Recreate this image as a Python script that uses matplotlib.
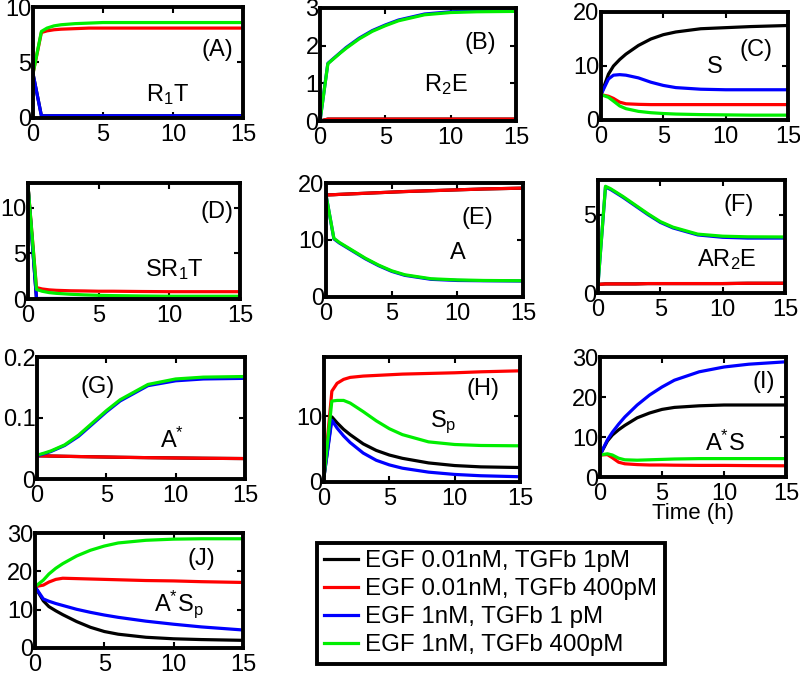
import matplotlib
matplotlib.use("Agg")
import matplotlib.pyplot as plt
from matplotlib.lines import Line2D

plt.rcParams['font.family'] = ['Liberation Sans', 'DejaVu Sans']
plt.rcParams['mathtext.fontset'] = 'custom'
plt.rcParams['mathtext.rm'] = 'Liberation Sans'
plt.rcParams['mathtext.it'] = 'Liberation Sans'

# time points (h)
t = [0, 0.6, 1, 1.5, 2, 3, 4, 5, 6, 8, 10, 12, 15]

series_labels = ["EGF 0.01nM, TGFb 1pM", "EGF 0.01nM, TGFb 400pM",
                 "EGF 1nM, TGFb 1 pM", "EGF 1nM, TGFb 400pM"]
colors = ['#000000', '#ff0000', '#0000ff', '#00ee00']

# (A) R1T
A_black = [4, 0.2, 0.2, 0.2, 0.2, 0.2, 0.2, 0.2, 0.2, 0.2, 0.2, 0.2, 0.2]
A_red   = [4, 7.7, 7.85, 7.95, 8.0, 8.05, 8.1, 8.1, 8.1, 8.1, 8.1, 8.1, 8.1]
A_blue  = [4, 0.2, 0.2, 0.2, 0.2, 0.2, 0.2, 0.2, 0.2, 0.2, 0.2, 0.2, 0.2]
A_green = [4, 7.8, 8.1, 8.3, 8.4, 8.5, 8.55, 8.6, 8.6, 8.6, 8.6, 8.6, 8.6]

# (B) R2E
B_black = [0, 0.05, 0.05, 0.05, 0.05, 0.05, 0.05, 0.05, 0.05, 0.05, 0.05, 0.05, 0.05]
B_red   = [0, 0.05, 0.05, 0.05, 0.05, 0.05, 0.05, 0.05, 0.05, 0.05, 0.05, 0.05, 0.05]
B_blue  = [0, 1.53, 1.65, 1.8, 1.95, 2.2, 2.4, 2.55, 2.68, 2.84, 2.9, 2.92, 2.93]
B_green = [0, 1.52, 1.64, 1.79, 1.93, 2.18, 2.38, 2.53, 2.66, 2.82, 2.88, 2.9, 2.91]

# (C) S
C_black = [4.7, 8.5, 10.0, 11.2, 12.2, 13.8, 15.0, 15.8, 16.3, 16.9, 17.1, 17.3, 17.5]
C_red   = [4.7, 4.4, 4.0, 3.3, 3.0, 2.9, 2.85, 2.85, 2.85, 2.85, 2.85, 2.85, 2.85]
C_blue  = [4.7, 7.6, 8.3, 8.4, 8.3, 7.8, 7.0, 6.4, 6.0, 5.7, 5.6, 5.6, 5.6]
C_green = [4.7, 4.2, 3.5, 2.6, 2.1, 1.6, 1.35, 1.2, 1.1, 1.0, 0.95, 0.9, 0.9]

# (D) SR1T
D_black = [12.4, 0.05, 0.05, 0.05, 0.05, 0.05, 0.05, 0.05, 0.05, 0.05, 0.05, 0.05, 0.05]
D_red   = [12.4, 1.25, 1.1, 1.0, 0.95, 0.9, 0.88, 0.85, 0.85, 0.82, 0.8, 0.8, 0.8]
D_blue  = [12.4, 0.05, 0.05, 0.05, 0.05, 0.05, 0.05, 0.05, 0.05, 0.05, 0.05, 0.05, 0.05]
D_green = [12.4, 1.05, 0.85, 0.7, 0.62, 0.52, 0.45, 0.4, 0.37, 0.33, 0.3, 0.3, 0.3]

# (E) A
E_black = [17.9, 17.95, 18.0, 18.05, 18.1, 18.2, 18.3, 18.4, 18.5, 18.65, 18.8, 18.95, 19.1]
E_red   = [17.9, 17.95, 18.0, 18.05, 18.1, 18.2, 18.3, 18.4, 18.5, 18.65, 18.8, 18.95, 19.1]
E_blue  = [17.9, 10.2, 9.5, 8.8, 8.1, 6.7, 5.5, 4.5, 3.8, 3.1, 2.9, 2.85, 2.8]
E_green = [17.9, 10.3, 9.6, 8.9, 8.2, 6.8, 5.6, 4.6, 3.9, 3.2, 3.0, 2.9, 2.85]

# (F) AR2E
F_black = [0.55, 0.58, 0.58, 0.58, 0.58, 0.58, 0.6, 0.6, 0.6, 0.6, 0.6, 0.62, 0.62]
F_red   = [0.55, 0.58, 0.58, 0.58, 0.58, 0.58, 0.6, 0.6, 0.6, 0.6, 0.6, 0.62, 0.62]
F_blue  = [0.55, 6.75, 6.6, 6.35, 6.1, 5.55, 5.0, 4.5, 4.15, 3.7, 3.55, 3.5, 3.5]
F_green = [0.55, 6.8, 6.65, 6.4, 6.15, 5.6, 5.05, 4.55, 4.2, 3.75, 3.62, 3.58, 3.57]

# (G) A*
G_black = [0.038, 0.0378, 0.0376, 0.0374, 0.0372, 0.0368, 0.0364, 0.036, 0.0356, 0.035, 0.0345, 0.034, 0.0335]
G_red   = [0.038, 0.0378, 0.0376, 0.0374, 0.0372, 0.0368, 0.0364, 0.036, 0.0356, 0.035, 0.0345, 0.034, 0.0335]
G_blue  = [0.038, 0.042, 0.045, 0.050, 0.055, 0.070, 0.090, 0.110, 0.128, 0.153, 0.161, 0.164, 0.165]
G_green = [0.039, 0.043, 0.046, 0.051, 0.056, 0.072, 0.092, 0.112, 0.130, 0.155, 0.164, 0.167, 0.168]

# (H) Sp
H_black = [0.8, 9.9, 9.0, 8.0, 7.2, 5.8, 4.8, 4.1, 3.6, 2.9, 2.5, 2.3, 2.2]
H_red   = [0.8, 13.8, 15.0, 15.6, 15.9, 16.1, 16.2, 16.3, 16.4, 16.5, 16.6, 16.75, 16.9]
H_blue  = [0.8, 9.4, 8.2, 7.0, 6.0, 4.4, 3.3, 2.6, 2.1, 1.5, 1.15, 0.95, 0.8]
H_green = [0.8, 12.3, 12.4, 12.4, 12.0, 10.7, 9.3, 8.1, 7.2, 6.1, 5.7, 5.55, 5.5]

# (I) A*S
I_black = [5.5, 9.0, 10.5, 11.8, 12.9, 14.8, 16.0, 16.9, 17.4, 17.8, 18.0, 18.0, 18.0]
I_red   = [5.5, 5.6, 4.8, 3.7, 3.3, 3.1, 3.0, 3.0, 2.95, 2.9, 2.9, 2.85, 2.8]
I_blue  = [5.5, 9.3, 11.2, 13.2, 15.0, 18.0, 20.5, 22.5, 24.2, 26.3, 27.5, 28.2, 28.8]
I_green = [5.5, 5.8, 5.5, 4.7, 4.3, 4.2, 4.3, 4.4, 4.5, 4.6, 4.6, 4.6, 4.6]

# (J) A*Sp
J_black = [16.0, 12.3, 10.8, 9.7, 8.7, 6.9, 5.4, 4.3, 3.6, 2.8, 2.4, 2.2, 2.0]
J_red   = [16.0, 16.4, 17.2, 17.9, 18.2, 18.1, 18.0, 17.9, 17.8, 17.6, 17.5, 17.3, 17.1]
J_blue  = [16.0, 12.8, 12.2, 11.6, 11.1, 10.1, 9.3, 8.6, 8.0, 7.0, 6.2, 5.5, 4.7]
J_green = [16.0, 17.7, 19.3, 20.8, 22.0, 24.0, 25.5, 26.6, 27.4, 28.1, 28.4, 28.5, 28.5]

panels = [
    ("(A)", r"R$_\mathregular{1}$T", [A_black, A_red, A_blue, A_green], (0, 10), [0, 5, 10], ["0", "5", "10"],
     (33, 243, 7, 118), (0.88, 0.61), (0.64, 0.21)),
    ("(B)", r"R$_\mathregular{2}$E", [B_black, B_red, B_blue, B_green], (0, 3), [0, 1, 2, 3], ["0", "1", "2", "3"],
     (320, 516, 8, 121), (0.82, 0.69), (0.64, 0.32)),
    ("(C)", "S", [C_black, C_red, C_blue, C_green], (0, 20), [0, 10, 20], ["0", "10", "20"],
     (601, 788, 12, 120), (0.83, 0.65), (0.61, 0.49)),
    ("(D)", r"SR$_\mathregular{1}$T", [D_black, D_red, D_blue, D_green], (0, 12.7), [0, 5, 10], ["0", "5", "10"],
     (28, 240, 183, 299), (0.89, 0.75), (0.69, 0.25)),
    ("(E)", "A", [E_black, E_red, E_blue, E_green], (0, 20), [0, 10, 20], ["0", "10", "20"],
     (326, 523, 183, 297), (0.77, 0.69), (0.67, 0.39)),
    ("(F)", r"AR$_\mathregular{2}$E", [F_black, F_red, F_blue, F_green], (0, 7.2), [0, 5], ["0", "5"],
     (598, 785, 180, 293), (0.75, 0.78), (0.69, 0.30)),
    ("(G)", r"A$^\mathregular{*}$", [G_black, G_red, G_blue, G_green], (0, 0.2), [0, 0.1, 0.2], ["0", "0.1", "0.2"],
     (37, 245, 357, 479), (0.29, 0.75), (0.65, 0.32)),
    ("(H)", r"S$_\mathregular{p}$", [H_black, H_red, H_blue, H_green], (0, 19), [0, 10], ["0", "10"],
     (324, 520, 357, 482), (0.81, 0.74), (0.61, 0.48)),
    ("(I)", r"A$^\mathregular{*}$S", [I_black, I_red, I_blue, I_green], (0, 30), [0, 10, 20, 30], ["0", "10", "20", "30"],
     (600, 786, 357, 477), (0.88, 0.79), (0.67, 0.28)),
    ("(J)", r"A$^\mathregular{*}$S$_\mathregular{p}$", [J_black, J_red, J_blue, J_green], (0, 30), [0, 10, 20, 30], ["0", "10", "20", "30"],
     (35, 243, 533, 648), (0.80, 0.77), (0.69, 0.38)),
]

W, H = 800, 675
fig = plt.figure(figsize=(W / 100, H / 100), dpi=100)
fs = 17

axes = {}
for letter, name, data, ylim, yticks, ylabels, box, lpos, npos in panels:
    l, r, top, bot = box
    ax = fig.add_axes([l / W, 1 - bot / H, (r - l) / W, (bot - top) / H])
    for ys, c in zip(data, colors):
        ax.plot(t, ys, color=c, lw=2.3, solid_capstyle='butt')
    ax.set_xlim(0, 15)
    ax.set_ylim(*ylim)
    ax.set_xticks([0, 5, 10, 15])
    ax.set_yticks(yticks)
    ax.set_yticklabels(ylabels)
    ax.tick_params(direction='in', length=4, width=1.5, labelsize=fs, pad=1,
                   top=True, right=True)
    ax.tick_params(axis='x', pad=4)
    for s in ax.spines.values():
        s.set_linewidth(2.8)
    ax.text(lpos[0], lpos[1], letter, transform=ax.transAxes, ha='center', va='center', fontsize=fs)
    ax.text(npos[0], npos[1], name, transform=ax.transAxes, ha='center', va='center', fontsize=fs)
    axes[letter] = ax

axes["(I)"].set_xlabel("Time (h)", fontsize=fs - 1, labelpad=-1)

handles = [Line2D([0], [0], color=c, lw=2.3) for c in colors]
leg = fig.legend(handles, series_labels, loc='upper left',
                 bbox_to_anchor=(317 / W, 1 - 543 / H), fontsize=17.4,
                 handlelength=1.4, handletextpad=0.3, labelspacing=0.25,
                 borderpad=0.3, fancybox=False, frameon=True, framealpha=1,
                 borderaxespad=0)
leg.get_frame().set_edgecolor('black')
leg.get_frame().set_linewidth(2.8)

fig.savefig("out.png", dpi=100)
